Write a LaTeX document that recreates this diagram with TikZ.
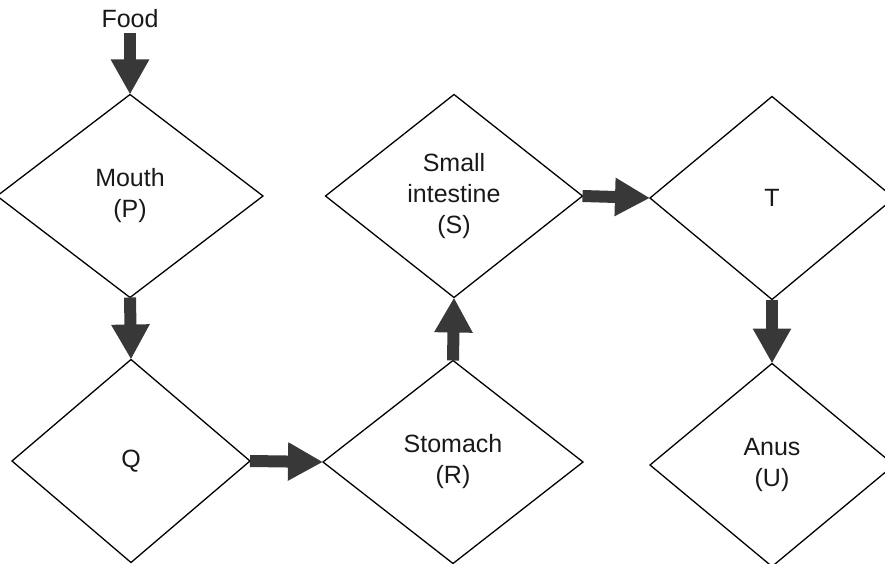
\documentclass[tikz,border=0pt]{standalone}
\usepackage{fontspec}
\setmainfont{Liberation Sans}
\usetikzlibrary{shapes.geometric,arrows.meta}

\begin{document}
\begin{tikzpicture}[
  x=1pt,y=-1pt,
  organ/.style={draw,diamond,line width=1.3pt,outer sep=0pt,inner sep=0pt,minimum width=256pt,minimum height=203pt},
  flow/.style={draw=black!78,line width=12pt,-{Triangle[length=35pt,width=36pt,fill=black!78]}},
  every node/.append style={align=center,font=\fontsize{25}{31}\selectfont,text=black!90}
]
  \useasboundingbox (0,0) rectangle (885,564);
  \clip (0,0) rectangle (885,564);
  \node (food) at (130,19) {Food};
  \node[organ,minimum width=266pt] (mouth) at (130,196) {Mouth\\(P)};
  \node[organ,minimum width=238pt] (q) at (131,461) {Q};
  \node[organ,minimum width=260pt] (stomach) at (453,462) {Stomach\\(R)};
  \node[organ,minimum width=257pt] (small) at (454,196) {Small\\intestine\\(S)};
  \node[organ,minimum width=244pt] (t) at (772,198) {T};
  \node[organ,minimum width=244pt] (anus) at (772,465) {Anus\\(U)};
  \draw[flow] ([yshift=-1pt]food.south) -- (mouth.north);
  \draw[flow] (mouth.south) -- (q.north);
  \draw[flow] (q.east) -- (stomach.west);
  \draw[flow] (stomach.north) -- (small.south);
  \draw[flow] (small.east) -- (t.west);
  \draw[flow] (t.south) -- (anus.north);
\end{tikzpicture}
\end{document}
